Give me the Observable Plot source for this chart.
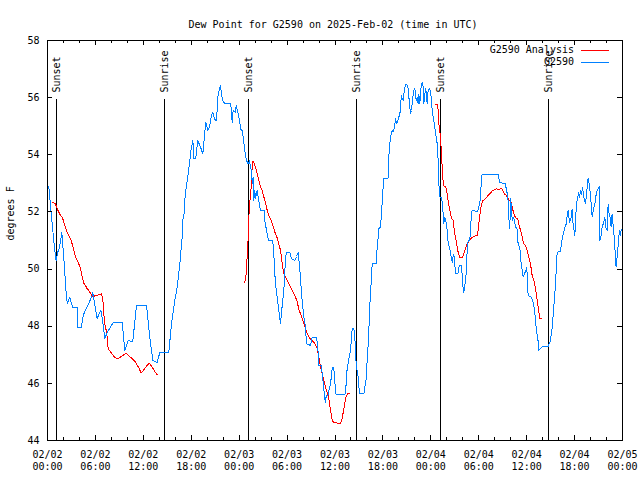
<!DOCTYPE html>
<html><head><meta charset="utf-8">
<script src="https://cdn.jsdelivr.net/npm/d3@7"></script>
<script src="https://cdn.jsdelivr.net/npm/@observablehq/plot@0.6"></script>
<style>body{margin:0;background:#fff}svg{display:block}</style>
</head><body><div id="chart"></div>
<script>
const title = "Dew Point for G2590 on 2025-Feb-02 (time in UTC)";
const yLabel = "degrees F";
const seriesNames = ["G2590 Analysis", "G2590"];
const seriesColors = ["#ff0000", "#0080ff"];
const yDomain = [44, 58];
const yTicks = [44, 46, 48, 50, 52, 54, 56, 58];
const startMs = Date.UTC(2025, 1, 2);
const xDomainHours = [0, 72];
const xMajorHours = [0, 6, 12, 18, 24, 30, 36, 42, 48, 54, 60, 66, 72];
const xMinorHours = [2, 4, 8, 10, 14, 16, 20, 22, 26, 28, 32, 34, 38, 40, 44, 46, 50, 52, 56, 58, 62, 64, 68, 70];
const sunEvents = [["Sunset", 1.18], ["Sunrise", 14.71], ["Sunset", 25.22], ["Sunrise", 38.73], ["Sunset", 49.22], ["Sunrise", 62.74]];

// G2590 observations: [hours since 02/02 00:00 UTC, degrees F]
const obs = [
[0.0,52.9],[0.16,52.9],[0.35,52.3],[0.63,51.45],[0.88,50.75],[1.08,50.3],[1.3,50.6],[1.5,50.75],[1.79,51.28],[2.04,50.4],
[2.34,49.15],[2.47,48.8],[2.79,49.0],[3.17,48.65],[3.72,48.65],[3.79,47.95],[4.22,47.95],[4.47,48.37],[4.76,48.58],[5.17,48.8],
[5.6,49.08],[5.67,49.18],[6.22,48.27],[6.64,48.55],[6.76,48.48],[7.18,47.57],[7.48,47.78],[8.23,48.13],[9.35,48.13],[9.68,47.15],
[10.1,47.5],[10.68,47.46],[11.14,48.72],[12.4,48.72],[12.81,47.6],[13.19,46.8],[13.74,46.73],[14.06,47.08],[15.19,47.08],[15.53,48.1],
[15.94,48.9],[16.24,49.37],[16.53,50.07],[16.87,51.12],[16.94,51.7],[17.15,51.99],[17.19,52.4],[17.37,52.87],[17.62,53.33],[17.99,54.21],
[18.2,54.5],[18.33,53.86],[18.55,53.86],[18.82,54.5],[19.16,54.27],[19.45,54.03],[19.7,54.79],[19.82,55.14],[20.07,54.85],[20.29,54.97],
[20.54,55.38],[20.7,55.49],[20.91,55.26],[21.12,55.2],[21.25,55.55],[21.37,56.13],[21.54,56.31],[21.66,56.42],[21.79,56.13],[21.91,55.9],
[22.08,55.84],[22.16,55.8],[22.92,55.8],[23.04,55.55],[23.12,55.14],[23.25,55.55],[23.54,55.49],[23.63,55.72],[23.83,55.49],[23.96,55.32],
[24.08,55.14],[24.17,54.9],[24.38,54.85],[24.58,54.44],[24.7,54.15],[24.92,53.8],[25.13,53.68],[25.29,53.8],[25.42,53.57],[25.55,53.45],
[25.63,52.98],[25.76,53.22],[25.83,52.4],[25.96,52.75],[26.05,52.46],[26.26,52.75],[26.46,52.4],[26.67,52.05],[27.17,52.05],[27.2,51.7],
[27.59,51.11],[27.71,51.0],[28.2,51.0],[28.34,50.53],[28.46,49.83],[28.64,49.25],[28.76,49.02],[28.96,48.55],[29.18,48.08],[29.3,48.49],
[29.51,49.02],[29.68,49.6],[29.72,49.95],[29.89,50.59],[30.34,50.59],[30.55,50.36],[30.97,50.3],[31.18,50.44],[31.39,50.59],[31.47,50.36],
[31.68,49.72],[31.8,49.15],[32.1,48.32],[32.31,47.97],[32.43,47.38],[32.93,47.33],[33.14,47.62],[33.68,47.62],[33.85,47.27],[33.97,46.62],
[34.27,46.62],[34.4,46.33],[34.52,46.04],[34.69,45.52],[34.81,45.34],[34.9,45.57],[35.1,45.57],[35.23,45.75],[35.44,45.98],[35.65,46.51],
[35.77,46.56],[35.94,46.33],[36.06,45.63],[36.27,45.6],[37.31,45.63],[37.52,46.51],[37.73,46.86],[37.94,47.15],[38.15,47.91],[38.36,47.91],
[38.48,47.62],[38.65,46.68],[38.9,46.21],[39.07,45.63],[39.61,45.63],[39.73,45.87],[39.94,46.21],[40.03,46.86],[40.16,47.38],[40.36,48.67],
[40.45,49.3],[40.57,49.6],[40.65,50.18],[41.15,50.18],[41.28,50.76],[41.41,51.12],[41.48,51.41],[41.7,51.47],[41.9,52.3],[42.1,53.18],
[42.65,53.18],[42.73,53.92],[42.86,54.38],[43.03,54.73],[43.16,54.85],[43.29,54.8],[43.45,54.97],[43.58,55.26],[43.7,55.08],[43.87,55.2],
[44.0,55.32],[44.2,55.55],[44.29,56.07],[44.41,55.96],[44.54,55.9],[44.62,56.13],[44.74,56.37],[44.92,56.48],[45.04,56.42],[45.16,56.31],
[45.33,55.78],[45.45,55.43],[45.58,55.55],[45.74,56.02],[45.87,56.25],[46.0,56.31],[46.17,55.9],[46.29,56.02],[46.42,55.78],[46.5,56.13],
[46.62,55.78],[46.79,56.42],[46.92,56.54],[47.05,56.37],[47.12,55.78],[47.25,56.13],[47.37,56.31],[47.54,55.78],[47.66,56.25],[47.83,56.31],
[47.96,56.25],[48.08,55.9],[48.17,55.55],[48.37,55.2],[48.58,54.8],[48.8,54.38],[48.92,53.8],[49.0,53.0],[49.13,52.52],[49.34,52.52],
[49.42,52.34],[49.55,51.93],[49.63,51.58],[49.71,51.82],[49.84,51.76],[50.05,51.35],[50.18,50.88],[50.38,50.71],[50.55,50.42],[50.67,50.24],
[50.76,50.42],[50.88,50.53],[51.0,50.18],[51.09,49.83],[51.38,49.83],[51.5,50.07],[51.63,50.13],[51.8,50.13],[51.92,49.83],[52.0,49.42],
[52.13,49.19],[52.25,49.42],[52.42,49.83],[52.55,50.65],[52.67,51.0],[52.88,51.0],[53.05,51.76],[53.17,52.05],[53.88,52.02],[54.22,52.46],
[54.35,53.27],[54.43,53.31],[56.43,53.31],[56.6,53.04],[57.35,52.98],[57.47,52.75],[57.64,52.58],[57.77,51.76],[57.89,51.41],[57.98,52.46],
[58.1,52.17],[58.19,51.7],[58.31,51.82],[58.47,51.7],[58.6,51.47],[58.8,51.41],[58.93,50.88],[59.14,50.76],[59.27,50.3],[59.56,49.72],
[59.9,49.95],[59.98,50.07],[60.1,49.72],[60.18,49.07],[60.6,49.02],[60.8,48.84],[61.0,48.55],[61.2,47.91],[61.42,47.5],[61.5,47.15],
[61.7,47.2],[62.0,47.29],[62.69,47.29],[62.98,47.5],[63.2,47.97],[63.4,48.67],[63.61,49.48],[63.74,50.18],[63.82,50.59],[64.24,50.63],
[64.37,50.94],[64.57,51.23],[64.74,51.41],[64.95,51.58],[65.08,51.87],[65.2,52.05],[65.27,51.82],[65.4,51.64],[65.58,51.82],[65.69,52.11],
[65.77,51.7],[65.9,51.41],[66.03,51.17],[66.12,51.7],[66.24,52.28],[66.4,52.52],[66.53,52.69],[66.62,52.52],[66.74,52.75],[66.87,52.62],
[66.99,52.87],[67.16,52.52],[67.37,52.28],[67.49,52.62],[67.7,53.19],[67.82,52.98],[68.0,52.58],[68.2,51.82],[68.33,52.05],[68.54,52.28],
[68.74,52.69],[68.95,52.81],[69.07,52.89],[69.16,51.0],[69.28,51.11],[69.45,51.47],[69.66,51.64],[69.78,51.82],[69.91,51.47],[70.07,51.35],
[70.2,52.28],[70.32,51.93],[70.45,51.82],[70.57,51.47],[70.7,51.93],[70.86,51.41],[70.98,51.06],[71.11,50.42],[71.2,50.07],[71.32,50.42],
[71.45,50.82],[71.61,51.35],[71.7,51.17],[71.85,51.4]
];

// G2590 Analysis, three separate runs
const analysisRun1 = [
[0.67,52.34],[1.0,52.28],[1.21,52.11],[1.42,51.99],[1.63,51.87],[1.84,51.82],[2.05,51.64],[2.25,51.47],[2.46,51.29],[2.67,51.17],
[2.88,51.06],[3.09,50.88],[3.3,50.65],[3.5,50.42],[3.72,50.3],[3.92,50.18],[4.13,50.01],[4.35,49.72],[4.55,49.5],[4.76,49.42],
[4.97,49.31],[5.17,49.25],[5.38,49.16],[5.6,49.04],[5.72,49.04],[6.01,49.07],[6.42,49.1],[6.76,49.13],[6.93,48.93],[7.05,48.43],
[7.18,48.08],[7.35,47.85],[7.48,47.62],[7.6,47.21],[7.76,47.15],[8.1,47.03],[8.39,46.92],[8.72,46.86],[9.14,46.92],[9.55,47.0],
[9.85,47.05],[10.18,46.97],[10.61,46.86],[11.02,46.74],[11.43,46.54],[11.73,46.37],[12.06,46.47],[12.4,46.6],[12.75,46.7],[13.11,46.57],
[13.4,46.43],[13.74,46.3]
];
const analysisRun2 = [
[24.7,49.54],[24.88,49.83],[25.0,50.42],[25.13,51.11],[25.2,51.7],[25.29,52.28],[25.42,52.52],[25.55,53.1],[25.63,53.57],[25.71,53.78],
[25.83,53.74],[26.05,53.57],[26.26,53.33],[26.46,53.1],[26.67,52.87],[26.88,52.75],[27.09,52.52],[27.3,52.34],[27.51,52.05],[27.71,51.87],
[27.92,51.76],[28.14,51.58],[28.34,51.41],[28.55,51.23],[28.76,51.09],[28.96,50.88],[29.18,50.65],[29.39,50.18],[29.59,49.83],[29.8,49.72],
[30.02,49.6],[30.22,49.48],[30.43,49.37],[30.64,49.25],[30.84,49.13],[31.05,49.02],[31.27,48.85],[31.47,48.6],[31.68,48.43],[31.89,48.26],
[32.1,48.08],[32.31,47.91],[32.52,47.74],[32.72,47.62],[32.93,47.56],[33.35,47.44],[33.56,47.36],[33.77,47.21],[33.97,46.92],[34.19,46.56],
[34.4,46.33],[34.6,46.1],[34.81,45.87],[35.02,45.69],[35.23,45.46],[35.44,45.05],[35.65,44.7],[35.85,44.64],[36.27,44.61],[36.69,44.61],
[36.9,44.76],[37.03,44.99],[37.19,45.22],[37.31,45.46],[37.44,45.57],[37.6,45.65],[37.85,45.65]
];
const analysisRun3 = [
[48.58,55.76],[48.87,55.76],[48.92,55.49],[49.0,55.1],[49.21,54.62],[49.34,54.03],[49.42,53.57],[49.5,53.16],[49.63,52.92],[49.84,52.87],
[49.96,52.81],[50.05,52.63],[50.18,52.34],[50.38,52.05],[50.55,51.82],[50.67,51.74],[50.8,51.7],[50.88,51.47],[51.0,51.23],[51.17,51.0],
[51.3,50.76],[51.42,50.59],[51.59,50.42],[51.72,50.4],[51.92,50.4],[52.13,50.53],[52.34,50.71],[52.55,50.88],[52.75,50.97],[52.96,51.06],
[53.25,51.12],[53.59,51.17],[53.8,51.17],[53.92,51.35],[54.05,51.7],[54.22,52.05],[54.35,52.28],[54.51,52.4],[54.72,52.43],[54.93,52.49],
[55.18,52.58],[55.47,52.66],[55.68,52.73],[55.97,52.77],[56.22,52.81],[56.51,52.77],[56.72,52.81],[56.85,52.83],[57.06,52.73],[57.22,52.63],
[57.44,52.58],[57.64,52.49],[57.77,52.4],[57.98,52.43],[58.1,52.26],[58.27,52.07],[58.47,51.87],[58.68,51.79],[58.89,51.76],[59.02,51.58],
[59.23,51.35],[59.44,51.12],[59.64,50.88],[59.85,50.82],[60.06,50.65],[60.27,50.42],[60.48,50.18],[60.69,49.77],[60.9,49.6],[61.11,49.31],
[61.32,48.9],[61.53,48.49],[61.65,48.26],[61.83,48.26]
];

const toDate = h => new Date(startMs + h * 3600e3);
const fmt = d3.utcFormat("%m/%d\n%H:%M");
const analysis = [
  ...analysisRun1.map(d => ({h: d[0], v: d[1], run: 1})),
  ...analysisRun2.map(d => ({h: d[0], v: d[1], run: 2})),
  ...analysisRun3.map(d => ({h: d[0], v: d[1], run: 3}))
];
const FONT = "DejaVu Sans Mono";
const CRISP = "crispEdges";

const W = 640, H = 480, mL = 47, mR = 18, mT = 40, mB = 40;
const innerH = H - mT - mB, innerW = W - mL - mR;

const chart = Plot.plot({
  width: W, height: H,
  marginLeft: mL, marginRight: mR, marginTop: mT, marginBottom: mB,
  style: {fontFamily: FONT, fontSize: "10px", background: "white", color: "black", overflow: "visible"},
  x: {type: "utc", domain: xDomainHours.map(toDate), axis: null},
  y: {domain: yDomain},
  marks: [
    // sunrise / sunset markers
    Plot.ruleX(sunEvents, {x: d => toDate(d[1]), insetTop: 59, stroke: "black", strokeWidth: 1, shapeRendering: CRISP}),
    Plot.text(sunEvents, {x: d => toDate(d[1]), text: d => d[0], frameAnchor: "top", dy: 52, rotate: -90,
      textAnchor: "start", lineAnchor: "middle", fontFamily: FONT, fontSize: 10, fill: "black"}),
    // data
    Plot.line(analysis, {x: d => toDate(d.h), y: "v", z: "run", stroke: seriesColors[0], strokeWidth: 1, curve: "linear", shapeRendering: CRISP}),
    Plot.line(obs, {x: d => toDate(d[0]), y: d => d[1], stroke: seriesColors[1], strokeWidth: 1, curve: "linear", shapeRendering: CRISP}),
    // inward ticks
    Plot.ruleX(xMajorHours, {x: toDate, insetTop: innerH - 5, stroke: "black", shapeRendering: CRISP}),
    Plot.ruleX(xMajorHours, {x: toDate, insetBottom: innerH - 5, stroke: "black", shapeRendering: CRISP}),
    Plot.ruleX(xMinorHours, {x: toDate, insetTop: innerH - 3, stroke: "black", shapeRendering: CRISP}),
    Plot.ruleX(xMinorHours, {x: toDate, insetBottom: innerH - 3, stroke: "black", shapeRendering: CRISP}),
    Plot.ruleY(yTicks, {y: d => d, insetRight: innerW - 5, stroke: "black", shapeRendering: CRISP}),
    Plot.ruleY(yTicks, {y: d => d, insetLeft: innerW - 5, stroke: "black", shapeRendering: CRISP}),
    Plot.axisY({ticks: yTicks, tickSize: 0, tickPadding: 8, label: null, fontFamily: FONT, fontSize: 10}),
    Plot.text(xMajorHours, {x: toDate, text: h => fmt(toDate(h)), frameAnchor: "bottom", dy: 20,
      lineAnchor: "middle", lineHeight: 1.2, fontFamily: FONT, fontSize: 10, fill: "black"}),
    Plot.text([yLabel], {text: d => d, frameAnchor: "left", dx: -37, rotate: -90, fontFamily: FONT, fontSize: 10, fill: "black"}),
    Plot.text([title], {text: d => d, frameAnchor: "top", dy: -20, dx: -2, fontFamily: FONT, fontSize: 10, fill: "black"}),
    Plot.frame({stroke: "black", strokeWidth: 1, shapeRendering: CRISP})
  ]
});

// legend (top-right, inside the frame)
const svg = d3.select(chart);
const lg = svg.append("g").attr("font-family", FONT).attr("font-size", 10);
seriesNames.forEach((name, i) => {
  const y = 50 + i * 12;
  lg.append("text").attr("x", 574).attr("y", y).attr("dy", "0.32em").attr("text-anchor", "end").attr("fill", "black").text(name);
  lg.append("line").attr("x1", 581).attr("x2", 609).attr("y1", y + 0.5).attr("y2", y + 0.5)
    .attr("stroke", seriesColors[i]).attr("stroke-width", 1).attr("shape-rendering", CRISP);
});

document.getElementById("chart").appendChild(chart);
</script>
</body></html>
